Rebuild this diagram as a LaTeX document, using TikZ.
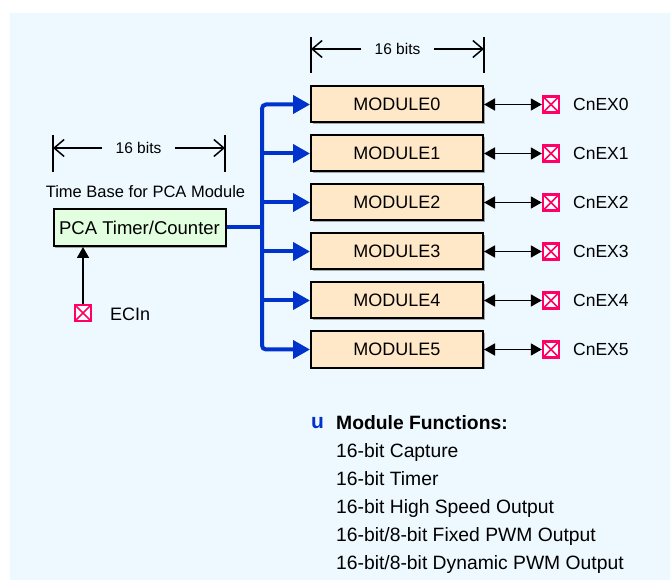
\documentclass[tikz,border=0pt]{standalone}
\usepackage{fontspec}
\setmainfont{Liberation Sans}
\usetikzlibrary{arrows.meta,shadows}
\definecolor{bgc}{HTML}{EEF8FF}
\definecolor{modfill}{HTML}{FFE8C8}
\definecolor{pcafill}{HTML}{E2FFE0}
\definecolor{busblue}{HTML}{0033CC}
\definecolor{pinred}{HTML}{FF0066}
\begin{document}
\begin{tikzpicture}[x=1pt,y=-1pt,
  modbox/.style={draw=black, line width=2pt, fill=modfill, minimum width=172pt, minimum height=36pt, inner sep=0pt,
    font=\fontsize{18}{21}\selectfont,
    drop shadow={shadow xshift=1.8pt, shadow yshift=-1.8pt, fill=gray!70, opacity=1}},
  pcabox/.style={draw=black, line width=2pt, fill=pcafill, minimum width=172pt, minimum height=37pt, inner sep=0pt,
    font=\fontsize{18.5}{21}\selectfont,
    drop shadow={shadow xshift=1.8pt, shadow yshift=-1.8pt, fill=gray!70, opacity=1}},
  pinbox/.style={draw=pinred, line width=2.4pt, fill=white, minimum size=16pt, inner sep=0pt,
    path picture={\draw[pinred, line width=1.6pt] (path picture bounding box.north west) -- (path picture bounding box.south east)
       (path picture bounding box.north east) -- (path picture bounding box.south west);}},
  pinlabel/.style={anchor=west, inner sep=0pt, font=\fontsize{17.5}{20}\selectfont},
  bus/.style={draw=busblue, line width=4pt},
  bustip/.style={-{Triangle[length=17pt,width=18pt]}},
  dbl/.style={line width=1.6pt, {Triangle[length=11pt,width=12pt]}-{Triangle[length=11pt,width=12pt]}},
  tickline/.style={line width=1.5pt},
  dimarrow/.style={line width=1.5pt, -{Straight Barb[length=10pt,width=17pt,line width=1.5pt]}},
  dimtext/.style={inner ysep=0pt, inner xsep=13pt, font=\fontsize{15.5}{18}\selectfont},
  functext/.style={anchor=base west, inner sep=0pt, font=\fontsize{19.3}{22}\selectfont}
]
\useasboundingbox (0,0) rectangle (670,580);
\fill[bgc] (10,13) rectangle (670,580);

% top dimension
\draw[tickline] (311,37) -- (311,73);
\draw[tickline] (484,37) -- (484,73);
\coordinate (ta) at (311,49);
\coordinate (tb) at (484,49);
\node[dimtext] (topbits) at (397.5,49) {16 bits};
\draw[dimarrow] (topbits.west) -- (ta);
\draw[dimarrow] (topbits.east) -- (tb);

% left dimension
\draw[tickline] (53,135) -- (53,172);
\draw[tickline] (225,135) -- (225,172);
\coordinate (la) at (53,148);
\coordinate (lb) at (225,148);
\node[dimtext] (leftbits) at (138.5,148) {16 bits};
\draw[dimarrow] (leftbits.west) -- (la);
\draw[dimarrow] (leftbits.east) -- (lb);

\node[inner sep=0pt, font=\fontsize{16.5}{19}\selectfont] (tbase) at (145.5,192) {Time Base for PCA Module};

% PCA timer
\node[pcabox] (pca) at (139.5,227.5) {PCA Timer/Counter};

% ECIn
\node[pinbox] (ec) at (83,313) {};
\node[pinlabel, font=\fontsize{18}{21}\selectfont] (ecl) at (110,314) {ECIn};
\draw[line width=1.6pt, -{Triangle[length=11pt,width=12pt]}] (ec.north) -- (pca.south -| ec.north);

% modules
\foreach \i in {0,...,5} {
  \node[modbox] (m\i) at (397,104.5+49*\i) {MODULE\i};
  \node[pinbox] (p\i) at (551,104.5+49*\i) {};
  \node[pinlabel] (l\i) at (573,104.5+49*\i) {CnEX\i};
  \draw[dbl] (m\i.east) -- (p\i.west);
}

% bus
\coordinate (bj) at (262,227.5);
\draw[bus] (pca.east) -- (bj);
\draw[bus, rounded corners=4pt, {Triangle[length=17pt,width=18pt]}-{Triangle[length=17pt,width=18pt]}]
  (m0.west) -| (bj) |- (m5.west);
\foreach \i in {1,...,4} {
  \draw[bus, bustip] (bj |- m\i.west) -- (m\i.west);
}

% functions
\node[anchor=base west, inner sep=0pt, text=busblue, font=\fontsize{21}{22}\selectfont\bfseries] (bul) at (311,428) {u};
\node[functext, font=\fontsize{19.3}{22}\selectfont\bfseries] (f0) at (336,429) {Module Functions:};
\node[functext] (f1) at (336,457) {16-bit Capture};
\node[functext] (f2) at (336,485) {16-bit Timer};
\node[functext] (f3) at (336,513) {16-bit High Speed Output};
\node[functext] (f4) at (336,541) {16-bit/8-bit Fixed PWM Output};
\node[functext] (f5) at (336,569) {16-bit/8-bit Dynamic PWM Output};
\end{tikzpicture}
\end{document}
